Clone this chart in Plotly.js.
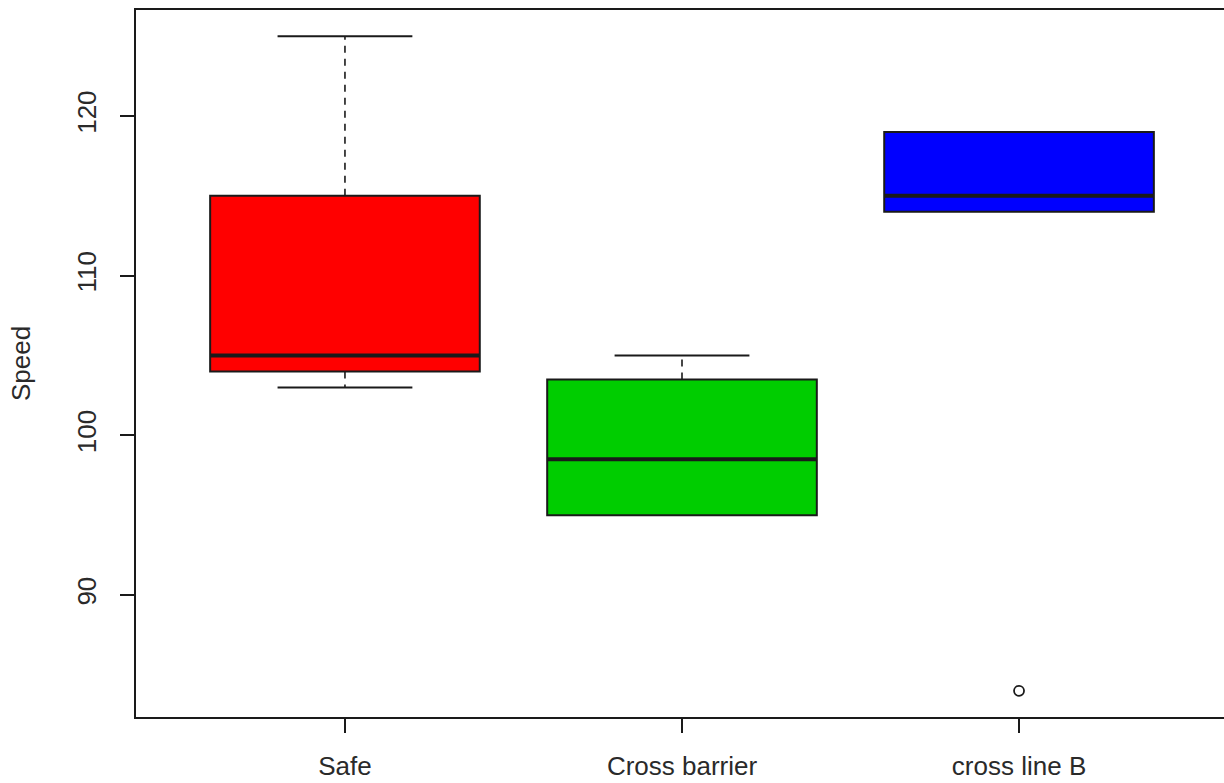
<!DOCTYPE html>
<html>
<head>
<meta charset="utf-8">
<script src="https://cdn.plot.ly/plotly-3.0.1.min.js"></script>
<style>
  html, body { margin: 0; padding: 0; overflow: hidden; background: #fff; }
  #chart { width: 1232px; height: 783px; }
</style>
</head>
<body>
<div id="chart"></div>
<script>
// ---- data ----
var categories   = ['Safe', 'Cross barrier', 'cross line B'];
var lowerWhisker = [103, 95, 114];
var q1Values     = [104, 95, 114];
var medianValues = [105, 98.5, 115];
var q3Values     = [115, 103.5, 119];
var upperWhisker = [125, 105, 119];
var outlierValues = [[], [], [84]];
var boxColors    = ['#FF0000', '#00CD00', '#0000FF'];
var yTicks       = [90, 100, 110, 120];

// ---- styling ----
var FONT = 'Liberation Sans, Arial, Helvetica, sans-serif';
var INK = '#1a1a1a';
var TEXT = '#2a2a2a';
var BOX_WIDTH = 0.8;
var STAPLE_HALF = 0.2;

var positions = categories.map(function (c, i) { return i + 1; });
var traces = [];

// boxes
categories.forEach(function (cat, i) {
  traces.push({
    type: 'box',
    name: cat,
    x: [positions[i]],
    q1: [q1Values[i]],
    median: [medianValues[i]],
    q3: [q3Values[i]],
    lowerfence: [q1Values[i]],
    upperfence: [q3Values[i]],
    width: BOX_WIDTH,
    whiskerwidth: 0,
    fillcolor: boxColors[i],
    line: { color: INK, width: 2 },
    boxpoints: false,
    hoverinfo: 'skip',
    showlegend: false
  });
});

// whiskers (dashed), staples (solid), thick medians, outliers
categories.forEach(function (cat, i) {
  var x = positions[i];
  var segs = [
    [q3Values[i], upperWhisker[i]],
    [q1Values[i], lowerWhisker[i]]
  ];
  segs.forEach(function (s) {
    if (s[0] !== s[1]) {
      traces.push({
        type: 'scatter', mode: 'lines',
        x: [x, x], y: [s[0], s[1]],
        line: { color: INK, width: 1.6, dash: '7px,6px' },
        hoverinfo: 'skip', showlegend: false
      });
    }
  });
  [upperWhisker[i], lowerWhisker[i]].forEach(function (w, k) {
    var edge = k === 0 ? q3Values[i] : q1Values[i];
    if (w !== edge) {
      traces.push({
        type: 'scatter', mode: 'lines',
        x: [x - STAPLE_HALF, x + STAPLE_HALF], y: [w, w],
        line: { color: INK, width: 2 },
        hoverinfo: 'skip', showlegend: false
      });
    }
  });
  traces.push({
    type: 'scatter', mode: 'lines',
    x: [x - BOX_WIDTH / 2, x + BOX_WIDTH / 2], y: [medianValues[i], medianValues[i]],
    line: { color: INK, width: 4 },
    hoverinfo: 'skip', showlegend: false
  });
  if (outlierValues[i].length) {
    traces.push({
      type: 'scatter', mode: 'markers',
      x: outlierValues[i].map(function () { return x; }),
      y: outlierValues[i],
      marker: { symbol: 'circle-open', size: 10, color: INK, line: { width: 1.8, color: INK } },
      hoverinfo: 'skip', showlegend: false
    });
  }
});

var layout = {
  width: 1232,
  height: 783,
  margin: { l: 136, r: 4, t: 10, b: 66 },
  paper_bgcolor: '#ffffff',
  plot_bgcolor: '#ffffff',
  showlegend: false,
  font: { family: FONT, size: 26, color: TEXT },
  xaxis: {
    range: [0.38, 3.62],
    tickmode: 'array',
    tickvals: positions,
    ticktext: categories,
    ticks: 'outside',
    ticklen: 14,
    tickwidth: 2,
    tickcolor: INK,
    ticklabelstandoff: 11,
    showline: true,
    linecolor: INK,
    linewidth: 2,
    mirror: true,
    showgrid: false,
    zeroline: false,
    tickfont: { family: FONT, size: 26, color: TEXT }
  },
  yaxis: {
    range: [82.36, 126.64],
    tickmode: 'array',
    tickvals: yTicks,
    ticks: 'outside',
    ticklen: 14,
    tickwidth: 2,
    tickcolor: INK,
    tickangle: -90,
    ticklabelstandoff: 14,
    showline: true,
    linecolor: INK,
    linewidth: 2,
    mirror: true,
    showgrid: false,
    zeroline: false,
    tickfont: { family: FONT, size: 26, color: TEXT },
    title: { text: 'Speed', font: { family: FONT, size: 26, color: TEXT }, standoff: 33 }
  }
};

Plotly.newPlot('chart', traces, layout, { displayModeBar: false, staticPlot: true });
</script>
</body>
</html>
